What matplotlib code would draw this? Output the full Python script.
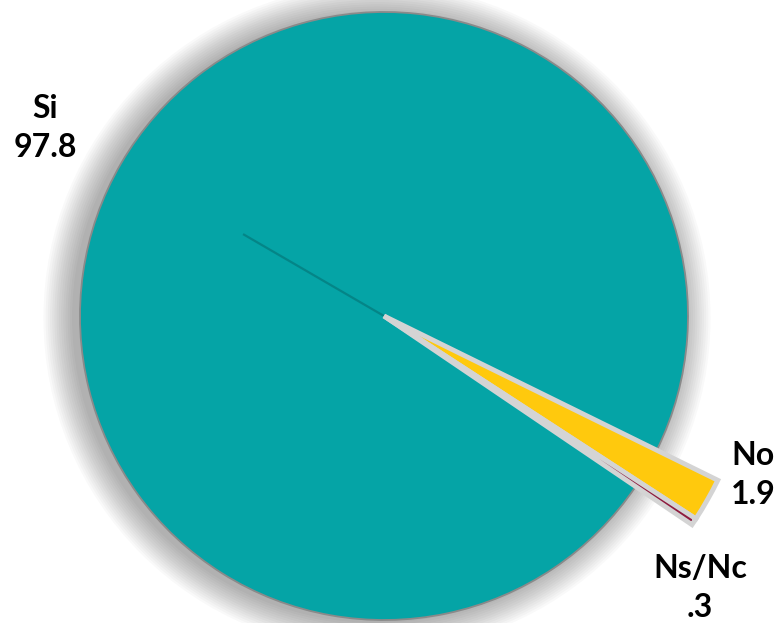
import numpy as np
import matplotlib.pyplot as plt
from matplotlib.patches import Circle

labels = ["Si", "No", "Ns/Nc"]
values = [97.8, 1.9, 0.3]
value_text = ["97.8", "1.9", ".3"]
colors = ["#05a4a6", "#ffc90d", "#8e1b3e"]

plt.rcParams['font.family'] = ['Lato', 'DejaVu Sans']

fig = plt.figure(figsize=(7.81, 6.23), dpi=100)
ax = fig.add_axes([0, 0, 1, 1])

cx, cy = 384, 316
r_main = 304
r_small = 372
start = 34.12

# soft shadow behind the pie
for i in range(14):
    ax.add_patch(Circle((cx - 7, cy + 2), r_main + 1 + i * 2.2, color="black",
                        alpha=0.022, lw=0, zorder=0))

# big slice
w1, _ = ax.pie(values, colors=colors, startangle=start, center=(cx, cy),
               radius=r_main, wedgeprops=dict(edgecolor="#8a8a8a", linewidth=1.3))
for w in w1[1:]:
    w.set_visible(False)

# small slices, pulled out past the rim
w2, _ = ax.pie(values, colors=colors, startangle=start, center=(cx, cy),
               radius=r_small, wedgeprops=dict(edgecolor="#d4d4d4", linewidth=3.5))
w2[0].set_visible(False)
for w in w2:
    w.set_zorder(3)

# shadow line of the slice gap
mid = np.deg2rad((w2[1].theta1 + w2[2].theta2) / 2)
ax.plot([cx, cx - 163 * np.cos(mid)], [cy, cy - 163 * np.sin(mid)],
        color="#04787a", lw=1.6, alpha=0.7, zorder=2, solid_capstyle="butt")

ax.set_xlim(0, 781)
ax.set_ylim(623, 0)
ax.axis("off")

label_pos = [(45, 128), (753, 475), (700, 588)]
for lab, txt, (x, y) in zip(labels, value_text, label_pos):
    ax.text(x, y, lab + "\n" + txt, ha="center", va="center", fontsize=23,
            fontweight="bold", linespacing=1.4, color="black")

fig.savefig("out.png", dpi=100)
